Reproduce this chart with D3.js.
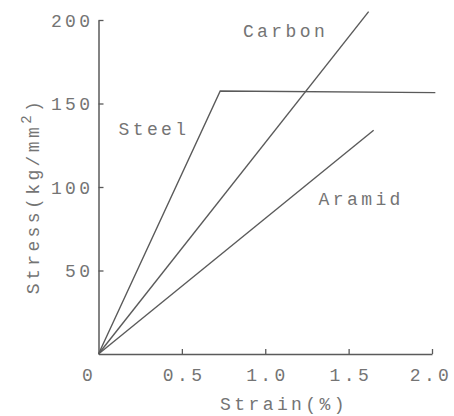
<!DOCTYPE html>
<html><head><meta charset="utf-8">
<script src="https://cdn.jsdelivr.net/npm/d3@7"></script>
<style>
body{margin:0;background:#fff;}
svg text{font-family:"Liberation Mono","DejaVu Sans Mono",monospace;fill:#747474;}
</style></head>
<body><svg id="c" width="454" height="416"></svg>
<script>
const seriesNames = ["Steel", "Carbon", "Aramid"];
const steelStrain = [0, 0.73, 2.02];
const steelStress = [0, 157.5, 156.5];
const carbonStrain = [0, 1.62];
const carbonStress = [0, 205];
const aramidStrain = [0, 1.65];
const aramidStress = [0, 134];
const xTicks = [0, 0.5, 1.0, 1.5, 2.0];
const xTickLabels = ["0", "0.5", "1.0", "1.5", "2.0"];
const yTicks = [50, 100, 150, 200];
const yTickLabels = ["50", "100", "150", "200"];

const FS = "18px", LS = "3.4px";
const svg = d3.select("#c");
const x = d3.scaleLinear().domain([0, 2]).range([98.5, 432]);
const y = d3.scaleLinear().domain([0, 200]).range([354, 20]);
const stroke = "#5a5a5a";

const xAxis = svg.append("g").attr("transform", `translate(0,${y(0)})`)
  .call(d3.axisBottom(x).tickValues(xTicks).tickSizeInner(-5).tickSizeOuter(0).tickPadding(14)
    .tickFormat((d, i) => xTickLabels[i]));
const yAxis = svg.append("g").attr("transform", `translate(${x(0)},0)`)
  .call(d3.axisLeft(y).tickValues(yTicks).tickSizeInner(-5).tickSizeOuter(0).tickPadding(5)
    .tickFormat((d, i) => yTickLabels[i]));
[xAxis, yAxis].forEach(a => {
  a.selectAll("path.domain").attr("stroke", stroke).attr("stroke-width", 1.5);
  a.selectAll(".tick line").attr("stroke", stroke).attr("stroke-width", 1.3);
  a.selectAll(".tick text").style("font-size", FS).style("letter-spacing", LS)
    .style("font-family", "Liberation Mono, monospace").attr("fill", "#747474");
});
xAxis.selectAll(".tick").filter(d => d === 0).select("line").remove();
xAxis.selectAll(".tick text").attr("dx", "1.7px");
xAxis.selectAll(".tick").filter(d => d === 0).select("text").attr("dx", "-10px");
xAxis.selectAll(".tick").filter(d => d === 2).select("text").attr("dx", "-1.5px");
yAxis.selectAll(".tick text").attr("dy", "0.35em");

const line = d3.line().x(d => x(d[0])).y(d => y(d[1]));
const series = [
  d3.zip(steelStrain, steelStress),
  d3.zip(carbonStrain, carbonStress),
  d3.zip(aramidStrain, aramidStress)
];
series.forEach(s => svg.append("path").attr("d", line(s)).attr("fill", "none")
  .attr("stroke", stroke).attr("stroke-width", 1.4));

const labelPos = [[0.12, 131], [0.866, 190], [1.32, 89]];
seriesNames.forEach((n, i) => svg.append("text").attr("x", x(labelPos[i][0])).attr("y", y(labelPos[i][1]))
  .style("font-size", FS).style("letter-spacing", LS).text(n));

svg.append("text").attr("x", 284).attr("y", 410).attr("text-anchor", "middle")
  .style("font-size", FS).style("letter-spacing", LS).text("Strain(%)");
const yl = svg.append("text").attr("transform", "translate(39,196) rotate(-90)").attr("text-anchor", "middle")
  .style("font-size", FS).style("letter-spacing", LS);
yl.append("tspan").text("Stress(kg/mm");
yl.append("tspan").attr("dy", -8).style("font-size", "14px").text("2");
yl.append("tspan").attr("dy", 8).text(")");
</script></body></html>
